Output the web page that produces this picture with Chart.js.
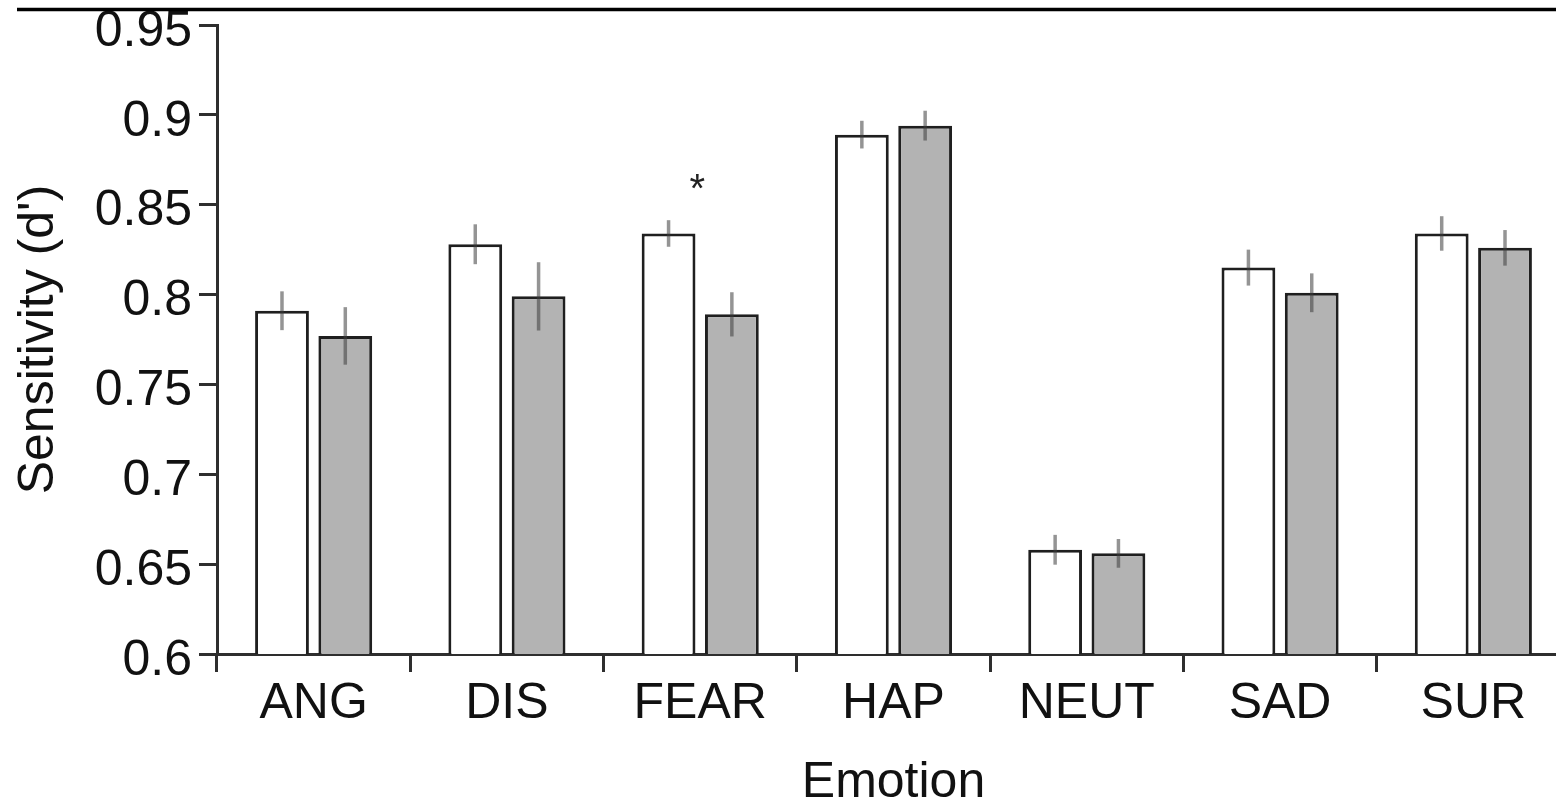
<!DOCTYPE html>
<html>
<head>
<meta charset="utf-8">
<title>Sensitivity by emotion</title>
<script src="https://cdn.jsdelivr.net/npm/chart.js@4.4.1/dist/chart.umd.min.js"></script>
<style>
  html, body { margin: 0; padding: 0; background: #fff; overflow: hidden; }
  #wrap { width: 1572px; height: 803px; }
</style>
</head>
<body>
<div id="wrap"><canvas id="sensChart" width="1572" height="803"></canvas></div>
<script>
// d' por emoción, dos condiciones (barra blanca / barra gris)
const emotions = ['ANG', 'DIS', 'FEAR', 'HAP', 'NEUT', 'SAD', 'SUR'];
const condA = [0.791, 0.828, 0.834, 0.889, 0.658, 0.815, 0.834];
const condB = [0.777, 0.799, 0.789, 0.894, 0.656, 0.801, 0.826];
const condAErr = [0.0108, 0.0111, 0.0074, 0.0077, 0.0083, 0.0100, 0.0096];
const condBErr = [0.0160, 0.0190, 0.0123, 0.0083, 0.0080, 0.0108, 0.0099];

const yTicks = [0.6, 0.65, 0.7, 0.75, 0.8, 0.85, 0.9, 0.95];
const yTickLabels = ['0.6', '0.65', '0.7', '0.75', '0.8', '0.85', '0.9', '0.95'];

// marcas de significancia
const sigCategories = ['FEAR'];
const sigValues = [0.862];

const FONT = "'Liberation Sans', Arial, Helvetica, sans-serif";
const INK = '#111';
const AXIS = '#2e2e2e';

// línea superior del marco
const topRule = {
    id: 'topRule',
    afterDraw(chart) {
        const ctx = chart.ctx;
        ctx.save();
        ctx.strokeStyle = '#000';
        ctx.lineWidth = 3.5;
        ctx.beginPath();
        ctx.moveTo(17, 9.5);
        ctx.lineTo(chart.width, 9.5);
        ctx.stroke();
        ctx.restore();
    }
};

// barras de error (sin tapas) y asterisco
const errorBars = {
    id: 'errorBars',
    afterDatasetsDraw(chart) {
        const ctx = chart.ctx;
        const y = chart.scales.y;
        const x = chart.scales.x;
        const errs = [condAErr, condBErr];
        ctx.save();
        ctx.strokeStyle = 'rgba(60, 60, 60, 0.55)';
        ctx.lineWidth = 3.5;
        chart.data.datasets.forEach((ds, i) => {
            const meta = chart.getDatasetMeta(i);
            meta.data.forEach((bar, j) => {
                const v = ds.data[j];
                const e = errs[i][j];
                ctx.beginPath();
                ctx.moveTo(bar.x, y.getPixelForValue(v + e));
                ctx.lineTo(bar.x, y.getPixelForValue(v - e));
                ctx.stroke();
            });
        });

        ctx.fillStyle = '#222';
        ctx.font = `40px ${FONT}`;
        ctx.textAlign = 'center';
        ctx.textBaseline = 'alphabetic';
        sigCategories.forEach((c, k) => {
            const px = x.getPixelForValue(emotions.indexOf(c)) - 3;
            const py = y.getPixelForValue(sigValues[k]);
            ctx.fillText('*', px, py + 19);
        });
        ctx.restore();
    }
};

const ctx = document.getElementById('sensChart').getContext('2d');

new Chart(ctx, {
    type: 'bar',
    data: {
        labels: emotions,
        datasets: [
            {
                label: 'Condición A',
                data: condA,
                backgroundColor: '#ffffff',
                borderColor: '#1f1f1f',
                borderWidth: 3,
                borderSkipped: false
            },
            {
                label: 'Condición B',
                data: condB,
                backgroundColor: '#b3b3b3',
                borderColor: '#1f1f1f',
                borderWidth: 3,
                borderSkipped: false
            }
        ]
    },
    options: {
        responsive: false,
        animation: false,
        devicePixelRatio: 1,
        layout: { padding: { left: 0, top: 25, right: 2, bottom: 0 } },
        datasets: {
            bar: { categoryPercentage: 0.655, barPercentage: 0.85 }
        },
        plugins: {
            legend: { display: false },
            tooltip: { enabled: false }
        },
        scales: {
            x: {
                grid: {
                    drawOnChartArea: false,
                    drawTicks: true,
                    tickLength: 18,
                    lineWidth: 3,
                    color: AXIS,
                    offset: true
                },
                border: { display: true, color: AXIS, width: 3 },
                ticks: {
                    color: INK,
                    padding: 2,
                    maxRotation: 0,
                    font: { family: FONT, size: 50, lineHeight: 1.2 }
                },
                title: {
                    display: true,
                    text: 'Emotion',
                    color: INK,
                    padding: { top: 0, bottom: 0 },
                    font: { family: FONT, size: 50, lineHeight: 0.8 }
                },
                afterFit(scale) {
                    scale.height = 149;
                    scale.paddingLeft = 0;
                    scale.paddingRight = 0;
                }
            },
            y: {
                min: 0.6,
                max: 0.95,
                afterBuildTicks(scale) {
                    scale.ticks = yTicks.map(v => ({ value: v }));
                },
                grid: {
                    drawOnChartArea: false,
                    drawTicks: true,
                    tickLength: 18,
                    lineWidth: 3,
                    color: AXIS
                },
                border: { display: true, color: AXIS, width: 3 },
                ticks: {
                    color: INK,
                    padding: 7,
                    // la etiqueta baja un poco respecto a su marca
                    font: { family: FONT, size: 50, lineHeight: 0.28 },
                    callback: (v, i) => ['', yTickLabels[i]]
                },
                title: {
                    display: true,
                    text: "Sensitivity (d')",
                    color: INK,
                    padding: { top: 9, bottom: 0 },
                    font: { family: FONT, size: 50, lineHeight: 1.2 }
                },
                afterFit(scale) {
                    scale.width = 217;
                    scale.paddingTop = 0;
                    scale.paddingBottom = 0;
                }
            }
        }
    },
    plugins: [topRule, errorBars]
});
</script>
</body>
</html>
